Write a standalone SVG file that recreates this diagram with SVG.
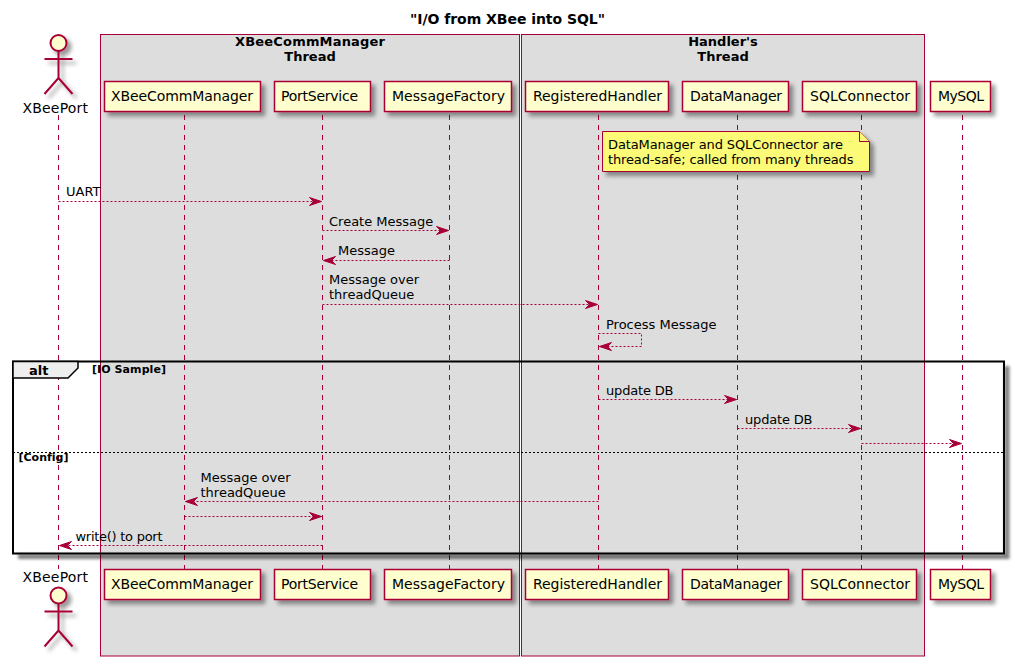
<svg xmlns="http://www.w3.org/2000/svg" width="1015" height="667" viewBox="0 0 1015 667">
<style>
text{font-family:"DejaVu Sans",sans-serif;fill:#000;font-variant-ligatures:none}
.b{font-weight:bold}
.m{font-size:13px}
.p{font-size:14px}
.box{fill:#DDD;stroke:#A80036;stroke-width:1}
.part{fill:#FEFECE;stroke:#A80036;stroke-width:1.5;filter:url(#sh)}
.life{stroke:#A80036;stroke-width:1;stroke-dasharray:5,5;fill:none}
.msg{stroke:#A80036;stroke-width:1;stroke-dasharray:2,2;fill:none;marker-end:url(#ah)}
.act{fill:none;stroke:#A80036;stroke-width:2}
</style>
<defs>
<filter id="sh" x="-20%" y="-20%" width="150%" height="150%"><feGaussianBlur in="SourceAlpha" stdDeviation="2"/><feOffset dx="4" dy="4"/><feColorMatrix type="matrix" values="0 0 0 0 0 0 0 0 0 0 0 0 0 0 0 0 0 0 .4 0"/><feMerge><feMergeNode/><feMergeNode in="SourceGraphic"/></feMerge></filter>
<filter id="bl" x="-5%" y="-5%" width="110%" height="110%"><feGaussianBlur stdDeviation="1.5"/></filter>
<marker id="ah" markerUnits="userSpaceOnUse" markerWidth="14" markerHeight="12" refX="12" refY="5" orient="auto" overflow="visible"><path d="M0,1 L12,5 L0,9 L4,5 Z" fill="#A80036" stroke="#A80036"/></marker>
<g id="stick"><circle cx="58.5" cy="43" r="8" fill="#FEFECE" stroke="#A80036" stroke-width="2"/><path class="act" d="M58.5,51V78M44.5,59H72.5M58.5,78L44.5,94M58.5,78L72.5,94"/></g>
</defs>
<text x="507.5" y="24" text-anchor="middle" class="b p" textLength="195">"I/O from XBee into SQL"</text>
<g id="box-xbee"><rect class="box" x="100.5" y="34.5" width="419" height="621.5"/><text x="310" y="46" text-anchor="middle" class="b m" textLength="150">XBeeCommManager</text><text x="310" y="61" text-anchor="middle" class="b m">Thread</text></g>
<g id="box-handler"><rect class="box" x="521.5" y="34.5" width="403" height="621.5"/><text x="723" y="46" text-anchor="middle" class="b m">Handler's</text><text x="723" y="61" text-anchor="middle" class="b m">Thread</text></g>
<g id="connectors">
<path class="life" d="M58.5,115V569M184.5,115V569M322.5,115V569M449.5,115V569M598.5,115V569M737.5,115V569M861.5,115V569M962.5,115V569"/>
<path class="msg" d="M58.5,201.5H321.5"/>
<path class="msg" d="M322.5,230.5H448.5"/>
<path class="msg" d="M449.5,260.5H323.5"/>
<path class="msg" d="M322.5,304.5H597.5"/>
<path class="msg" d="M598.5,333.5H641.5V346.5H599.5"/>
<path class="msg" d="M598.5,399.5H736.5"/>
<path class="msg" d="M737.5,428.5H860.5"/>
<path class="msg" d="M861.5,443.5H961.5"/>
<path class="msg" d="M598.5,501.5H185.5"/>
<path class="msg" d="M184.5,516.5H321.5"/>
<path class="msg" d="M322.5,545.5H59.5"/>
<text x="66" y="196" class="m">UART</text>
<text x="329" y="226" class="m">Create Message</text>
<text x="338" y="255" class="m">Message</text>
<text x="329" y="284" class="m">Message over</text>
<text x="329" y="299" class="m">threadQueue</text>
<text x="606" y="329" class="m">Process Message</text>
<text x="606" y="395" class="m" textLength="67.5">update DB</text>
<text x="745" y="424" class="m" textLength="67.5">update DB</text>
<text x="200.5" y="482" class="m">Message over</text>
<text x="200.5" y="497" class="m">threadQueue</text>
<text x="75.5" y="541" class="m" textLength="87">write() to port</text>
</g>
<g id="XBeePort-top"><use href="#stick" filter="url(#sh)"/><text x="22.5" y="113" class="p" textLength="65.5">XBeePort</text></g>
<g id="XBeeCommManager-top"><rect class="part" x="104.5" y="81.5" width="156" height="30"/><text x="111" y="101" class="p" textLength="142">XBeeCommManager</text></g>
<g id="PortService-top"><rect class="part" x="274.5" y="81.5" width="96" height="30"/><text x="281" y="101" class="p" textLength="77">PortService</text></g>
<g id="MessageFactory-top"><rect class="part" x="384.5" y="81.5" width="127" height="30"/><text x="392" y="101" class="p" textLength="113">MessageFactory</text></g>
<g id="RegisteredHandler-top"><rect class="part" x="525.5" y="81.5" width="143" height="30"/><text x="533" y="101" class="p" textLength="129">RegisteredHandler</text></g>
<g id="DataManager-top"><rect class="part" x="682.5" y="81.5" width="106" height="30"/><text x="690" y="101" class="p" textLength="92">DataManager</text></g>
<g id="SQLConnector-top"><rect class="part" x="802.5" y="81.5" width="114" height="30"/><text x="810" y="101" class="p" textLength="100">SQLConnector</text></g>
<g id="MySQL-top"><rect class="part" x="930.5" y="81.5" width="60" height="30"/><text x="938" y="101" class="p" textLength="46">MySQL</text></g>
<g id="note"><path d="M602.5,131.5H859.5L869.5,141.5V171.5H602.5Z" fill="#FBFB77" stroke="#A80036" filter="url(#sh)"/><path d="M859.5,131.5V141.5H869.5" fill="#FBFB77" stroke="#A80036"/><text x="608" y="149" class="m" textLength="235">DataManager and SQLConnector are</text><text x="608" y="164" class="m" textLength="245.5">thread-safe; called from many threads</text></g>
<g id="alt">
<path d="M1007,366V556.5H18" fill="none" stroke="#000" stroke-opacity=".5" stroke-width="5" filter="url(#bl)"/>
<rect x="13" y="361.5" width="991" height="192" fill="none" stroke="#000" stroke-width="2"/>
<path d="M13,361.5H78V368L68,378H13Z" fill="#EEE" stroke="#000" stroke-width="1.5"/>
<text x="29" y="375" class="b m">alt</text>
<text x="92" y="373" class="b" font-size="11" textLength="74">[IO Sample]</text>
<path d="M13,452.5H1004" stroke="#000" stroke-width="1" stroke-dasharray="2,2" fill="none"/>
<text x="18.5" y="461" class="b" font-size="11">[Config]</text>
</g>
<g id="XBeePort-bottom"><text x="22.5" y="581.5" class="p" textLength="65.5">XBeePort</text><use href="#stick" y="552.5" filter="url(#sh)"/></g>
<g id="XBeeCommManager-bottom"><rect class="part" x="104.5" y="569.5" width="156" height="30"/><text x="111" y="589" class="p" textLength="142">XBeeCommManager</text></g>
<g id="PortService-bottom"><rect class="part" x="274.5" y="569.5" width="96" height="30"/><text x="281" y="589" class="p" textLength="77">PortService</text></g>
<g id="MessageFactory-bottom"><rect class="part" x="384.5" y="569.5" width="127" height="30"/><text x="392" y="589" class="p" textLength="113">MessageFactory</text></g>
<g id="RegisteredHandler-bottom"><rect class="part" x="525.5" y="569.5" width="143" height="30"/><text x="533" y="589" class="p" textLength="129">RegisteredHandler</text></g>
<g id="DataManager-bottom"><rect class="part" x="682.5" y="569.5" width="106" height="30"/><text x="690" y="589" class="p" textLength="92">DataManager</text></g>
<g id="SQLConnector-bottom"><rect class="part" x="802.5" y="569.5" width="114" height="30"/><text x="810" y="589" class="p" textLength="100">SQLConnector</text></g>
<g id="MySQL-bottom"><rect class="part" x="930.5" y="569.5" width="60" height="30"/><text x="938" y="589" class="p" textLength="46">MySQL</text></g>
</svg>
